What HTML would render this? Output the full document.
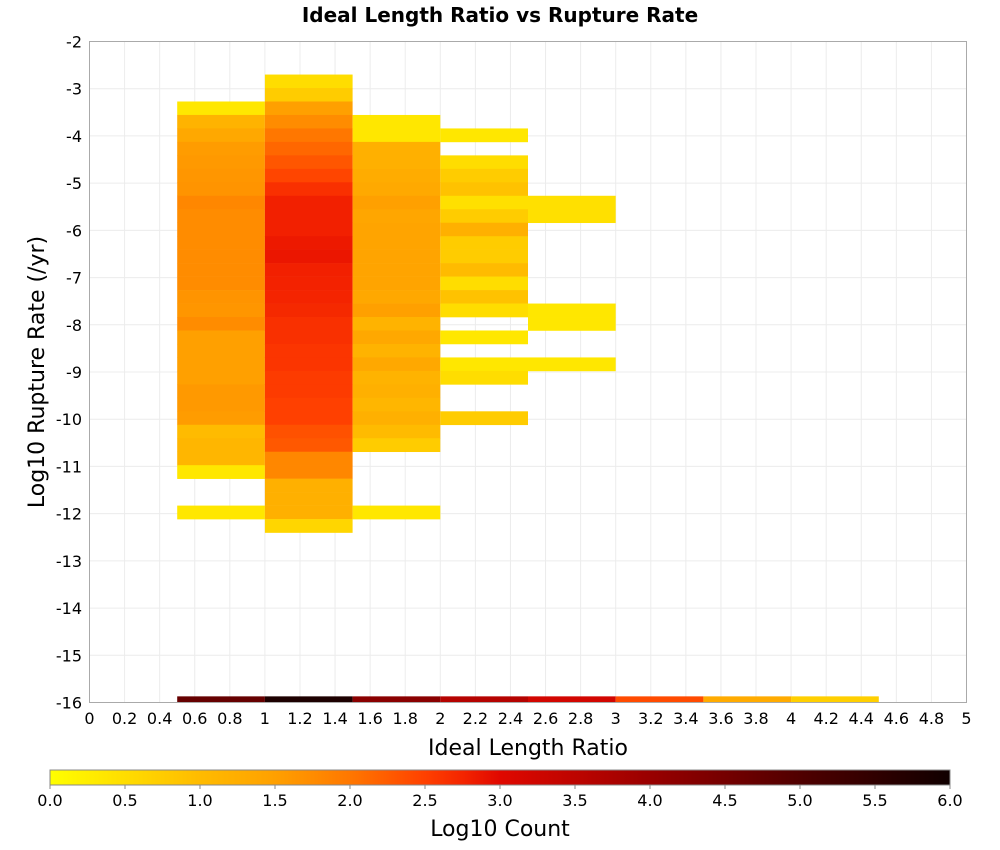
<!DOCTYPE html>
<html><head><meta charset="utf-8"><style>
html,body{margin:0;padding:0;background:#fff}
svg{display:block;font-family:"DejaVu Sans","Liberation Sans",sans-serif}
</style></head><body>
<svg id="chart" width="1000" height="850" viewBox="0 0 1000 850" xmlns="http://www.w3.org/2000/svg">
<text x="500" y="22" text-anchor="middle" font-size="20" font-weight="bold">Ideal Length Ratio vs Rupture Rate</text>
<g id="grid"></g>
<g id="cells"></g>
<rect x="89.5" y="41.5" width="877" height="661" fill="none" stroke="#aaa" stroke-width="1"/>
<g id="yticks"></g>
<g id="xticks"></g>
<text x="528" y="755" text-anchor="middle" font-size="22">Ideal Length Ratio</text>
<text transform="translate(44,372) rotate(-90)" text-anchor="middle" font-size="22">Log10 Rupture Rate (/yr)</text>
<defs><linearGradient id="cbg" x1="0" x2="1" y1="0" y2="0"></linearGradient></defs>
<rect x="50" y="770" width="900" height="15" fill="url(#cbg)" stroke="#888" stroke-width="1"/>
<g id="cbticks"></g>
<text x="500" y="836" text-anchor="middle" font-size="22">Log10 Count</text>
</svg>
<script>
const NS="http://www.w3.org/2000/svg";
// Data: column bins (x start), first row index, log10 counts per row (null = empty)
const binX=[0.5,1.0,1.5,2.0,2.5];
const rowStart=[2,0,3,4,9];
const col1=[0.35,1.15,1.35,1.55,1.58,1.62,1.65,1.8,1.75,1.75,1.75,1.75,1.75,1.75,1.65,1.62,1.75,1.5,1.5,1.5,1.5,1.58,1.58,1.55,1.0,1.1,1.1,0.35,null,null,0.35];
const col2=[0.5,0.75,1.5,1.75,2.0,2.15,2.3,2.45,2.65,2.8,2.8,2.8,2.86,2.88,2.8,2.78,2.76,2.72,2.65,2.65,2.6,2.6,2.55,2.55,2.5,2.5,2.35,2.28,1.8,1.8,1.2,1.2,1.2,0.6];
const col3=[0.35,0.35,1.2,1.2,1.27,1.33,1.5,1.38,1.43,1.43,1.43,1.43,1.43,1.35,1.5,1.15,1.35,1.15,1.35,1.15,1.2,1.1,1.2,1.0,0.75,null,null,null,null,0.35];
const col4=[0.35,null,0.5,0.75,0.9,0.45,0.75,1.2,0.75,0.75,1.0,0.5,0.9,0.5,null,0.35,null,0.35,0.5,null,null,0.75];
const col5=[0.45,0.45,null,null,null,null,null,null,0.35,0.35,null,null,0.35];
const cols=[col1,col2,col3,col4,col5];
const bottomX=[0.5,1.0,1.5,2.0,2.5,3.0,3.5,4.0];
const bottomV=[4.7,5.8,4.2,3.6,3.2,2.4,1.3,0.7];
const xTicks=["0","0.2","0.4","0.6","0.8","1","1.2","1.4","1.6","1.8","2","2.2","2.4","2.6","2.8","3","3.2","3.4","3.6","3.8","4","4.2","4.4","4.6","4.8","5"];
const yTicks=[-2,-3,-4,-5,-6,-7,-8,-9,-10,-11,-12,-13,-14,-15,-16];
const cbTicks=["0.0","0.5","1.0","1.5","2.0","2.5","3.0","3.5","4.0","4.5","5.0","5.5","6.0"];
const Y0=-2.7, RH=0.2853, BW=0.5;
const X=v=>89.5+v*175.4;
const Y=v=>41.5+(-2-v)*47.214;
const stops=[[0,[255,255,0]],[0.5,[255,221,0]],[1,[255,187,0]],[1.5,[255,160,0]],[2,[255,119,0]],[2.5,[255,64,0]],[2.8,[242,32,0]],[3,[224,8,0]],[4,[153,0,0]],[5,[80,0,0]],[6,[16,0,0]]];
function cmap(v){for(let i=1;i<stops.length;i++){if(v<=stops[i][0]){const a=stops[i-1],b=stops[i],t=(v-a[0])/(b[0]-a[0]);return "rgb("+a[1].map((c,k)=>Math.round(c+(b[1][k]-c)*t)).join(",")+")";}}return "rgb(16,0,0)";}
function mk(tag,attrs,parent){const e=document.createElementNS(NS,tag);for(const k in attrs)e.setAttribute(k,attrs[k]);parent.appendChild(e);return e;}
const grid=document.getElementById('grid');
for(let i=1;i<25;i++){const l=mk('line',{x1:X(i*0.2),x2:X(i*0.2),y1:41.5,y2:702.5,stroke:'#ececec'},grid);}
for(let v=-3;v>-16;v--){const l=mk('line',{x1:89.5,x2:966.5,y1:Y(v),y2:Y(v),stroke:'#ececec'},grid);}
const cells=document.getElementById('cells');
cols.forEach((col,ci)=>{col.forEach((v,ri)=>{if(v===null)return;const r=rowStart[ci]+ri;const top=Y(Y0-RH*r),bot=Y(Y0-RH*(r+1));
const c=mk('rect',{x:X(binX[ci]),y:top,width:X(binX[ci]+BW)-X(binX[ci]),height:bot-top+0.3,fill:cmap(v)},cells);
});});
bottomX.forEach((x,i)=>{const c=mk('rect',{x:X(x),y:Y(-15.87),width:X(x+BW)-X(x),height:Y(-16)-Y(-15.87),fill:cmap(bottomV[i])},cells);
});
const yt=document.getElementById('yticks');
yTicks.forEach(v=>{const t=mk('text',{x:82,y:Y(v)+6,'text-anchor':'end','font-size':16},yt);t.textContent=v;});
const xt=document.getElementById('xticks');
xTicks.forEach((s,i)=>{const t=mk('text',{x:X(i*0.2),y:724,'text-anchor':'middle','font-size':16},xt);t.textContent=s;});
const g=document.getElementById('cbg');
for(let v=0;v<=6.0001;v+=0.25){mk('stop',{offset:(v/6),'stop-color':cmap(v)},g);}
const cb=document.getElementById('cbticks');
cbTicks.forEach((s,i)=>{const x=50+i*75;const l=mk('line',{x1:x,x2:x,y1:785,y2:789,stroke:'#888'},cb);
const t=mk('text',{x:x,y:806,'text-anchor':'middle','font-size':16},cb);t.textContent=s;});
</script>
</body></html>
